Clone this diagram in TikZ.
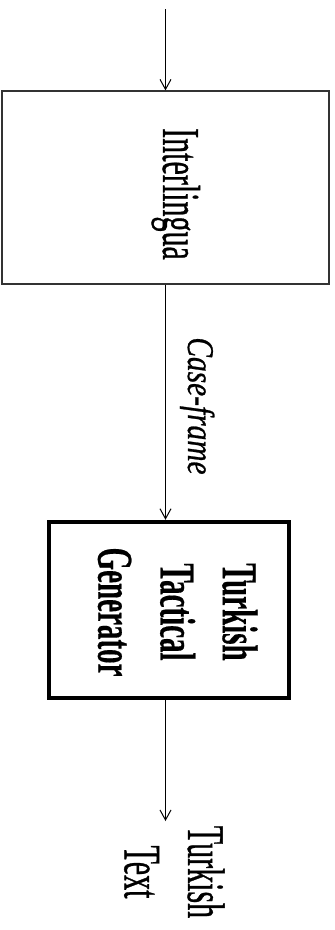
\documentclass[tikz,border=0pt]{standalone}
\usepackage{fontspec}
\setmainfont{Liberation Serif}
\usepackage{tikz}
\usetikzlibrary{arrows.meta}

\tikzset{
    arr/.style={-{Straight Barb[length=10pt, width=11pt]}, line width=1pt},
    vtext/.style={rotate=-90, inner sep=0pt},
}

\begin{document}
\begin{tikzpicture}[x=1pt, y=-1pt]
        \useasboundingbox (0, 0) rectangle (335, 930);

        % Draw the boxes
        \node[draw=black!80, line width=1.2pt, minimum width=327pt, minimum height=193pt, inner sep=0pt] (inter) at (165.5, 187.5) {};
        \node[draw, line width=4.5pt, minimum width=240pt, minimum height=176pt, inner sep=0pt] (ttg) at (169, 610) {};

        % Labels, turned on their side
        \node[vtext, anchor=base, font=\fontsize{30}{36}\selectfont\addfontfeature{FakeBold=0.8}] (intertext) at (163, 194) {\scalebox{1}[1.78]{Interlingua}};
        \node[vtext, anchor=base, font=\fontsize{29.4}{35}\selectfont\itshape\addfontfeature{FakeBold=0.8}] (case) at (188, 406) {\scalebox{1}[1.28]{Case-frame}};
        \node[vtext, font=\fontsize{29}{36}\selectfont\bfseries\addfontfeature{FakeBold=0.5}] (ttgtext) at (173, 612) {\scalebox{1}[1.73]{\begin{tabular}{@{}c@{}}Turkish\\Tactical\\Generator\end{tabular}}};
        \node[vtext, font=\fontsize{30}{36}\selectfont\addfontfeature{FakeBold=0.8}] (out) at (169, 872) {\scalebox{1}[1.76]{\begin{tabular}{@{}c@{}}Turkish\\Text\end{tabular}}};

        % Arrows
        \coordinate (in) at (165.5, 9);
        \coordinate (end) at (165.5, 821);
        \draw[arr] (in) -- (inter.north);
        \draw[arr] (inter.south) -- (inter.south |- ttg.north);
        \draw[arr] (inter.south |- ttg.south) -- (end);
    \end{tikzpicture}
\end{document}
